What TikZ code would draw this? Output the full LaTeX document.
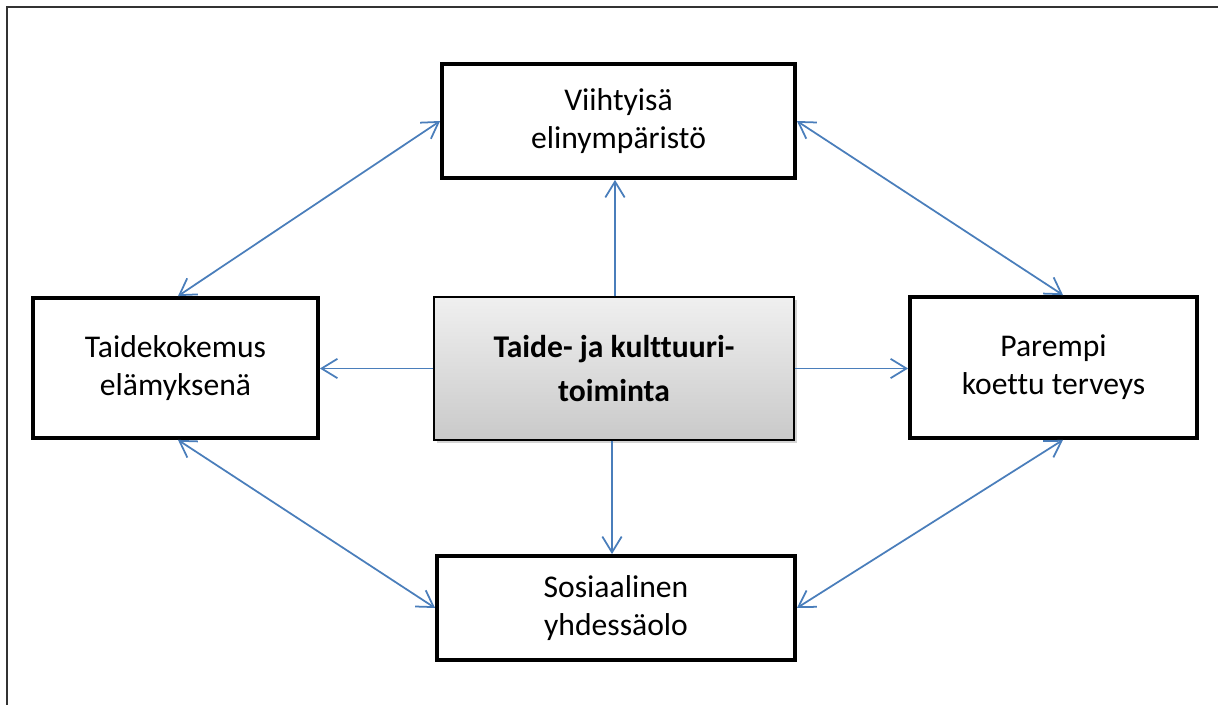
\documentclass[tikz,border=0pt]{standalone}
\usepackage{fontspec}
\setmainfont{Carlito}[Ligatures=NoCommon]
\usepackage{tikz}
\usetikzlibrary{arrows.meta,shadows}
\definecolor{link}{HTML}{4A7EBB}
\tikzset{
  box/.style={draw=black, line width=2.2pt, fill=white, align=center,
    font=\fontsize{18}{21.6}\selectfont},
  hub/.style={draw=black, line width=0.8pt, align=center,
    top color=gray!12, bottom color=gray!42,
    drop shadow={shadow xshift=1.8pt, shadow yshift=-1.8pt, opacity=0.35},
    font=\fontsize{18}{25.5}\selectfont\bfseries},
  link/.style={draw=link, line width=1pt, -{Straight Barb[length=9pt,width=11pt]}},
  twoway/.style={link, {Straight Barb[length=9pt,width=11pt]}-{Straight Barb[length=9pt,width=11pt]}}
}
\begin{document}
\begin{tikzpicture}[x=0.02cm, y=-0.02cm]
\useasboundingbox (0,0) rectangle (1218,705);
% frame of the page, only top and left edges show
\draw[line width=1.2pt, black!80] (7,705) -- (7,7) -- (1218,7);

\node[hub, minimum width=7.2cm, minimum height=2.86cm] (toiminta) at (614,368.5) {Taide- ja kulttuuri-\\toiminta};
\node[box, minimum width=7.06cm, minimum height=2.28cm] (viihtyisa) at (618.5,121) {Viihtyisä\\elinympäristö};
\node[box, minimum width=5.7cm, minimum height=2.8cm] (taide) at (175.5,368) {Taidekokemus\\elämyksenä};
\node[box, minimum width=5.74cm, minimum height=2.82cm] (terveys) at (1053.5,367.5) {Parempi\\koettu terveys};
\node[box, minimum width=7.16cm, minimum height=2.08cm] (sosiaalinen) at (616,608) {Sosiaalinen\\yhdessäolo};

% from the hub outwards
\draw[link] ([xshift=0.02cm]toiminta.north) -- ([xshift=0.02cm]toiminta.north |- viihtyisa.south);
\draw[link] (toiminta.west) -- (toiminta.west -| taide.east);
\draw[link] (toiminta.east) -- (toiminta.east -| terveys.west);
\draw[link] ([xshift=-0.04cm]toiminta.south) -- ([xshift=-0.04cm]toiminta.south |- sosiaalinen.north);

% round the ring
\draw[twoway] (viihtyisa.west) -- ([xshift=0.05cm]taide.north);
\draw[twoway] (viihtyisa.east) -- ([xshift=0.19cm]terveys.north);
\draw[twoway] ([xshift=0.05cm]taide.south) -- (sosiaalinen.west);
\draw[twoway] ([xshift=0.19cm]terveys.south) -- (sosiaalinen.east);
\end{tikzpicture}
\end{document}
